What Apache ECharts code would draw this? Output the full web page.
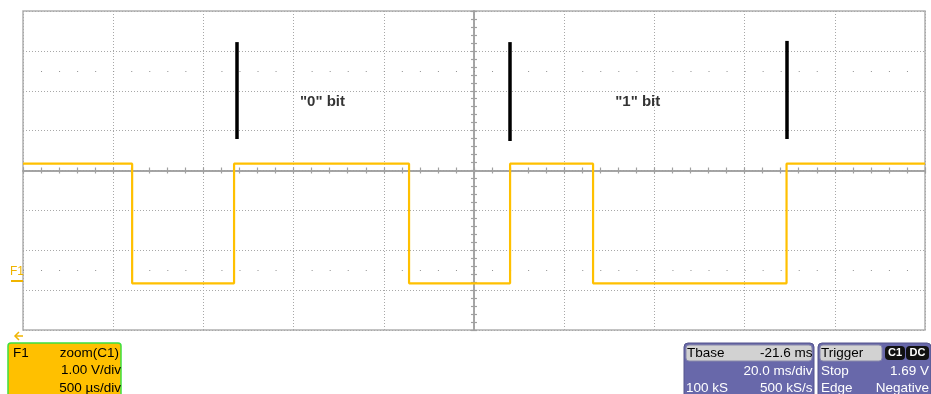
<!DOCTYPE html>
<html><head><meta charset="utf-8">
<script src="https://cdn.jsdelivr.net/npm/echarts@6/dist/echarts.min.js"></script>
<style>html,body{margin:0;padding:0;background:#fff}#c{width:931px;height:394px}</style>
</head><body><div id="c"></div>
<script>
// Time in ms relative to screen centre (20 ms/div), voltage in V (1 V/div)
const xRange = [-100, 100];
const yRange = [-4, 4];
const edgeTimes = [-75.8, -53.2, -14.4, 8.0, 26.4, 69.3];
const levelHigh = 0.17;
const levelLow = -2.83;
const barTimes = [-52.5, 8.0, 69.4];
const barBottoms = [0.79, 0.74, 0.79];
const barTops = [3.22, 3.22, 3.25];
const labelTexts = ['"0" bit', '"1" bit'];
const labelTimes = [-33.6, 36.3];
const labelVolts = [1.71, 1.71];
const dotRows = [2.5, -2.5];

const trace = [[xRange[0], levelHigh]];
let cur = levelHigh;
edgeTimes.forEach(t => {
  trace.push([t, cur]);
  cur = (cur === levelHigh) ? levelLow : levelHigh;
  trace.push([t, cur]);
});
trace.push([xRange[1], cur]);

const FONT = '"Liberation Sans", Arial, sans-serif';
const BF = '13.5px ' + FONT;
const GRID_C = '#a8a8a8';
const AXIS_C = '#a0a0a0';

function centreAxis(dim, pos, interval) {
  return {
    type: 'value', min: dim === 'x' ? xRange[0] : yRange[0], max: dim === 'x' ? xRange[1] : yRange[1],
    interval: interval, position: pos,
    axisLine: { show: true, onZero: true, onZeroAxisIndex: 0, lineStyle: { color: AXIS_C, width: 1.5 } },
    axisTick: { show: true, inside: false, length: 3, lineStyle: { color: AXIS_C, width: 1.2 } },
    axisLabel: { show: false }, splitLine: { show: false }
  };
}

const chart = echarts.init(document.getElementById('c'), null, { renderer: 'canvas' });
chart.setOption({
  animation: false,
  backgroundColor: '#ffffff',
  grid: { left: 23, top: 11, width: 902, height: 319, show: true, borderColor: '#b0b0b0', borderWidth: 1.5, backgroundColor: '#ffffff' },
  xAxis: [
    { type: 'value', min: xRange[0], max: xRange[1], interval: 20, position: 'bottom',
      axisLine: { show: false, onZero: false }, axisTick: { show: false }, axisLabel: { show: false },
      splitLine: { show: true, lineStyle: { color: GRID_C, type: [1, 2], width: 1 } } },
    centreAxis('x', 'bottom', 4),
    centreAxis('x', 'top', 4)
  ],
  yAxis: [
    { type: 'value', min: yRange[0], max: yRange[1], interval: 1, position: 'left',
      axisLine: { show: false, onZero: false }, axisTick: { show: false }, axisLabel: { show: false },
      splitLine: { show: true, lineStyle: { color: GRID_C, type: [1, 2], width: 1 } } },
    centreAxis('y', 'left', 0.2),
    centreAxis('y', 'right', 0.2)
  ],
  series: [
    { type: 'line', name: 'dots', data: [], silent: true,
      markLine: { silent: true, symbol: 'none', label: { show: false },
        lineStyle: { color: '#909090', width: 1, type: [1, 17.04] },
        emphasis: { disabled: true },
        data: dotRows.map(v => ({ yAxis: v })) } },
    { type: 'line', name: 'F1', data: trace, showSymbol: false, symbol: 'none',
      lineStyle: { color: '#FFC000', width: 2.2 }, z: 5 },
    { type: 'line', name: 'markers', data: [], silent: true, z: 6,
      markLine: { silent: true, symbol: 'none', label: { show: false },
        lineStyle: { color: '#000000', width: 3.5, type: 'solid' },
        emphasis: { disabled: true },
        data: barTimes.map((t, i) => [{ coord: [t, barBottoms[i]] }, { coord: [t, barTops[i]] }]) } },
    { type: 'scatter', name: 'labels', symbolSize: 1, itemStyle: { color: 'rgba(0,0,0,0)' },
      data: labelTexts.map((s, i) => ({ value: [labelTimes[i], labelVolts[i]], name: s })),
      label: { show: true, position: 'inside', formatter: '{b}', color: '#000', fontWeight: 'bold', fontSize: 15, fontFamily: FONT } }
  ],
  graphic: [
    // F1 offset marker
    { type: 'text', left: 10, top: 266, style: { text: 'F1', fill: '#F0B400', font: '12px ' + FONT } },
    { type: 'line', shape: { x1: 11, y1: 281, x2: 23, y2: 281 }, style: { stroke: '#F0B400', lineWidth: 2 } },
    // arrow
    { type: 'polyline', shape: { points: [[23, 336], [15, 336]] }, style: { stroke: '#F0B400', lineWidth: 1.5 } },
    { type: 'polyline', shape: { points: [[19, 332], [15, 336], [19, 340]] }, style: { stroke: '#F0B400', lineWidth: 1.5, fill: null } },
    // F1 box
    { type: 'rect', shape: { x: 8, y: 343, width: 113, height: 56, r: [3, 3, 0, 0] }, style: { fill: '#FFC000', stroke: '#3ee03e', lineWidth: 1.5 } },
    { type: 'text', style: { x: 13, y: 353, text: 'F1', fill: '#000', font: BF, textVerticalAlign: 'middle' } },
    { type: 'text', style: { x: 119, y: 353, text: 'zoom(C1)', fill: '#000', font: BF, textAlign: 'right', textVerticalAlign: 'middle' } },
    { type: 'text', style: { x: 121, y: 370.5, text: '1.00 V/div', fill: '#000', font: BF, textAlign: 'right', textVerticalAlign: 'middle' } },
    { type: 'text', style: { x: 121, y: 388, text: '500 µs/div', fill: '#000', font: BF, textAlign: 'right', textVerticalAlign: 'middle' } },
    // Tbase box
    { type: 'rect', shape: { x: 684, y: 343, width: 130, height: 56, r: [4, 4, 0, 0] }, style: { fill: '#6868AA', stroke: '#55558c', lineWidth: 1 } },
    { type: 'rect', shape: { x: 686, y: 345, width: 126, height: 16, r: 3 }, style: { fill: '#d2d2d2', stroke: '#8888aa', lineWidth: 1 } },
    { type: 'text', style: { x: 687, y: 353, text: 'Tbase', fill: '#000', font: BF, textVerticalAlign: 'middle' } },
    { type: 'text', style: { x: 812.5, y: 353, text: '-21.6 ms', fill: '#000', font: BF, textAlign: 'right', textVerticalAlign: 'middle' } },
    { type: 'text', style: { x: 812.5, y: 371, text: '20.0 ms/div', fill: '#fff', font: BF, textAlign: 'right', textVerticalAlign: 'middle' } },
    { type: 'text', style: { x: 686, y: 388, text: '100 kS', fill: '#fff', font: BF, textVerticalAlign: 'middle' } },
    { type: 'text', style: { x: 812.5, y: 388, text: '500 kS/s', fill: '#fff', font: BF, textAlign: 'right', textVerticalAlign: 'middle' } },
    // Trigger box
    { type: 'rect', shape: { x: 818, y: 343, width: 113, height: 56, r: [4, 4, 0, 0] }, style: { fill: '#6868AA', stroke: '#55558c', lineWidth: 1 } },
    { type: 'rect', shape: { x: 820, y: 345, width: 62, height: 16, r: 3 }, style: { fill: '#d2d2d2', stroke: '#8888aa', lineWidth: 1 } },
    { type: 'text', style: { x: 821, y: 353, text: 'Trigger', fill: '#000', font: BF, textVerticalAlign: 'middle' } },
    { type: 'rect', shape: { x: 885, y: 346, width: 20, height: 14, r: 4 }, style: { fill: '#111' } },
    { type: 'rect', shape: { x: 906, y: 346, width: 23, height: 14, r: 4 }, style: { fill: '#111' } },
    { type: 'text', style: { x: 895, y: 353, text: 'C1', fill: '#fff', font: 'bold 11px ' + FONT, textAlign: 'center', textVerticalAlign: 'middle' } },
    { type: 'text', style: { x: 917.5, y: 353, text: 'DC', fill: '#fff', font: 'bold 11px ' + FONT, textAlign: 'center', textVerticalAlign: 'middle' } },
    { type: 'text', style: { x: 821, y: 371, text: 'Stop', fill: '#fff', font: BF, textVerticalAlign: 'middle' } },
    { type: 'text', style: { x: 929, y: 371, text: '1.69 V', fill: '#fff', font: BF, textAlign: 'right', textVerticalAlign: 'middle' } },
    { type: 'text', style: { x: 821, y: 388, text: 'Edge', fill: '#fff', font: BF, textVerticalAlign: 'middle' } },
    { type: 'text', style: { x: 929, y: 388, text: 'Negative', fill: '#fff', font: BF, textAlign: 'right', textVerticalAlign: 'middle' } }
  ]
});
</script></body></html>
